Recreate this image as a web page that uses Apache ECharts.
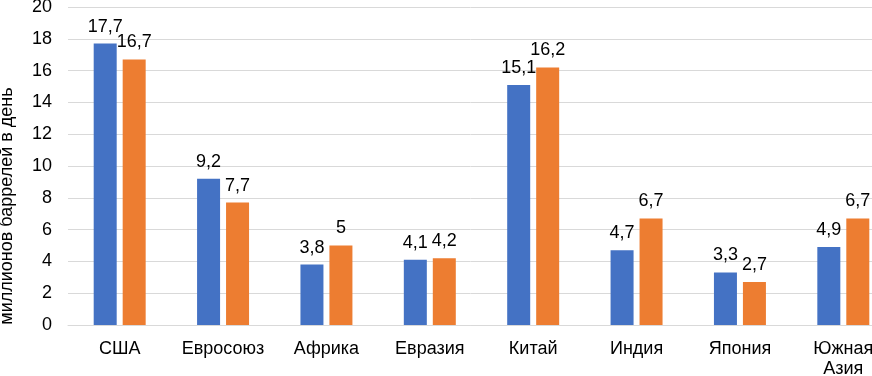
<!DOCTYPE html>
<html><head><meta charset="utf-8">
<script src="https://cdn.jsdelivr.net/npm/echarts@6/dist/echarts.min.js"></script>
<style>html,body{margin:0;padding:0;background:#fff}#c{width:872px;height:376px}</style>
</head><body><div id="c"></div>
<script>
const categories = ['США','Евросоюз','Африка','Евразия','Китай','Индия','Япония','Южная\nАзия'];
const seriesA = [17.7, 9.2, 3.8, 4.1, 15.1, 4.7, 3.3, 4.9];
const seriesB = [16.7, 7.7, 5, 4.2, 16.2, 6.7, 2.7, 6.7];
const yTicks = [0,2,4,6,8,10,12,14,16,18,20];
const yName = 'миллионов баррелей в день';

const font = 'Liberation Sans, Arial, sans-serif';
const chart = echarts.init(document.getElementById('c'), null, {renderer:'canvas'});
const lbl = {show:true, position:'top', distance:8, color:'#000', fontSize:18, fontFamily:font,
  formatter: p => String(p.value).replace('.', ',')};
chart.setOption({
  animation:false,
  grid:{left:68, top:7, width:827, height:318, containLabel:false, outerBoundsMode:'none'},
  xAxis:{type:'category', data:categories,
    axisLine:{lineStyle:{color:'#d9d9d9'}}, axisTick:{show:false},
    axisLabel:{color:'#000', fontSize:18, fontFamily:font, margin:14, lineHeight:20, interval:0}},
  yAxis:{type:'value', min:yTicks[0], max:yTicks[yTicks.length-1], interval:2,
    axisLine:{show:false}, axisTick:{show:false},
    axisLabel:{color:'#000', fontSize:18, fontFamily:font, margin:16},
    splitLine:{lineStyle:{color:'#d9d9d9', width:1}}},
  graphic:[{type:'text', x:7, y:206, rotation:Math.PI/2,
    style:{text:yName, fill:'#000', font:'18px ' + font, align:'center', verticalAlign:'middle'}}],
  series:[
    {type:'bar', data:seriesA, barWidth:23, barGap:'26%', itemStyle:{color:'#4472C4'}, label:lbl},
    {type:'bar', data:seriesB, barWidth:23, barGap:'26%', itemStyle:{color:'#ED7D31'}, label:lbl}
  ]
});
</script></body></html>
